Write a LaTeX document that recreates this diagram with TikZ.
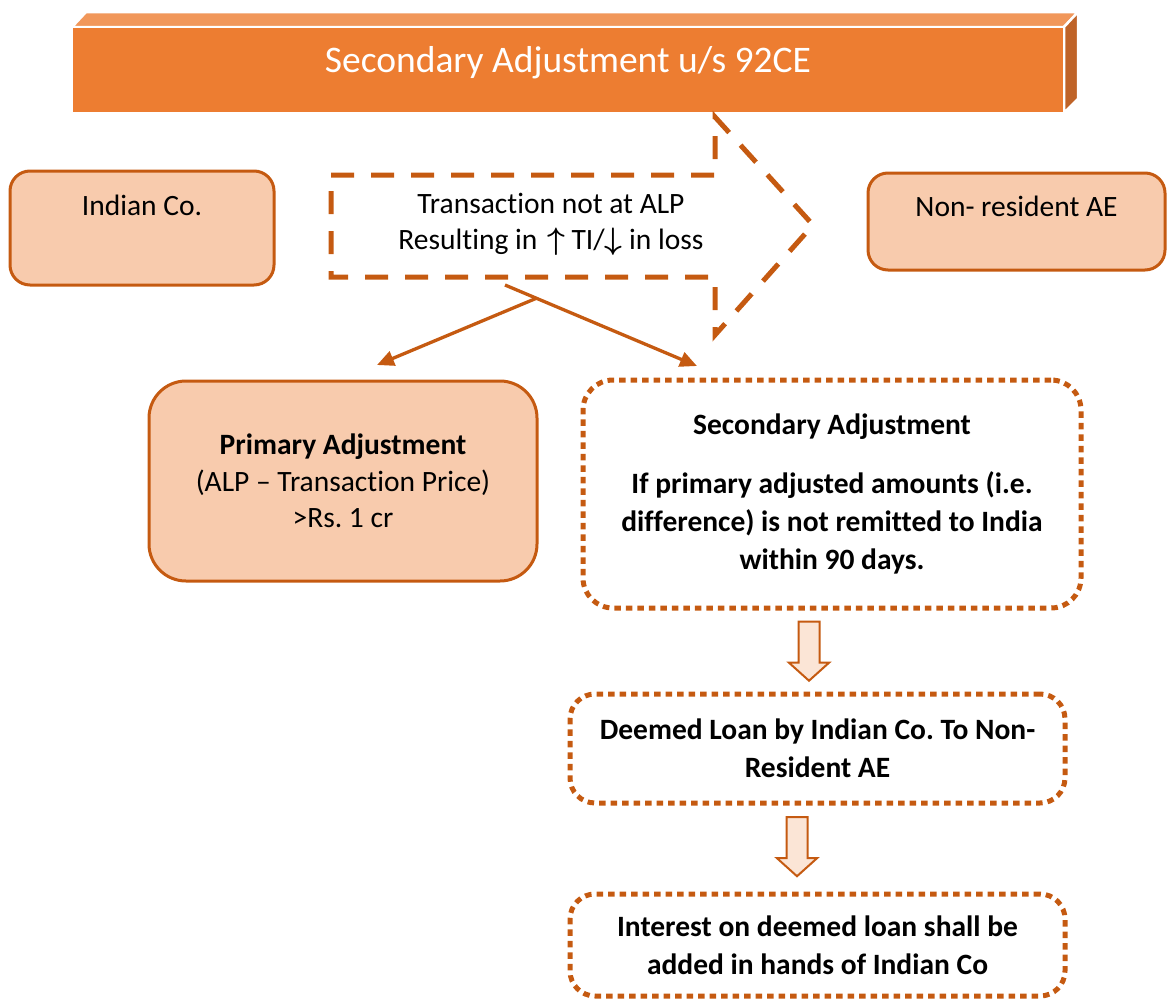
\documentclass[tikz,border=0pt]{standalone}
\usepackage{fix-cm}
\usepackage{fontspec}
\setmainfont{Carlito}[Ligatures=CommonOff]
\usetikzlibrary{arrows.meta, positioning, shapes.arrows}
\frenchspacing

\definecolor{bannerfront}{HTML}{ED7D31}
\definecolor{bannertop}{HTML}{F1975A}
\definecolor{bannerside}{HTML}{BF6328}
\definecolor{edge}{HTML}{C55A11}
\definecolor{peach}{HTML}{F8CBAD}
\definecolor{pale}{HTML}{FBE5D6}

\newcommand\upmark{\smash{\fontsize{31}{36.5}\selectfont\boldmath$\uparrow$}}
\newcommand\downmark{\smash{\fontsize{31}{36.5}\selectfont\boldmath$\downarrow$}}

\begin{document}
\begin{tikzpicture}[
    x=1pt, y=-1pt,
    font=\fontsize{29.5}{36.5}\selectfont,
    >={Triangle[length=17pt, width=15pt]},
    box/.style={rectangle, rounded corners=20pt, draw=edge, fill=peach, line width=3pt, align=center},
    dotbox/.style={rectangle, rounded corners=30pt, draw=edge, line width=5pt, dash pattern=on 6.5pt off 5pt, align=center, font=\fontsize{29.5}{38}\selectfont\bfseries},
    dashbound/.style={draw=edge, line width=5pt, dash pattern=on 23pt off 17pt},
    flow/.style={draw=edge, line width=3.3pt},
    fatarrow/.style={single arrow, draw=edge, fill=pale, line width=2pt, shape border rotate=270, minimum height=59pt, minimum width=38pt, inner sep=9.5pt, single arrow head extend=9.5pt, single arrow tip angle=96}
  ]
    \useasboundingbox (0,0) rectangle (1168,999);

    % banner
    \filldraw[fill=bannertop, draw=white, line width=2.5pt] (72,27) -- (86,12) -- (1078,12) -- (1064,27) -- cycle;
    \filldraw[fill=bannerside, draw=white, line width=2.5pt] (1064,27) -- (1078,12) -- (1078,99) -- (1064,113) -- cycle;
    \node[rectangle, fill=bannerfront, draw=white, line width=2.5pt, minimum width=992pt, minimum height=86pt,
      label={[text=white, font=\fontsize{37.5}{44}\selectfont, yshift=7pt]center:Secondary Adjustment u/s 92CE}] (title) at (568,70) {};

    % parties
    \node[box, minimum width=264pt, minimum height=114pt,
      label={[anchor=center, yshift=-36pt]north:Indian Co.}] (indian) at (142,228) {};
    \node[box, minimum width=297pt, minimum height=97pt,
      label={[anchor=center, yshift=-35pt]north:Non- resident AE}] (nonres) at (1016.5,221.5) {};

    % transaction arrow
    \draw[dashbound] (331,175) -- (715,175) -- (715,117) -- (813,225) -- (715,335) -- (715,277) -- (331,277) -- cycle;
    \node[align=center] (txn) at (551,224) {Transaction not at ALP\\Resulting in\hspace{3pt} \upmark\ TI/\downmark\ in loss};

    % adjustments
    \node[box, rounded corners=37pt, minimum width=388pt, minimum height=200pt] (primary) at (343,481)
      {\textbf{Primary Adjustment}\\(ALP -- Transaction Price)\\>Rs. 1 cr};
    \node[dotbox, minimum width=498pt, minimum height=228pt] (secondary) at (832,494)
      {Secondary Adjustment\\[21pt]If primary adjusted amounts (i.e.\\difference) is not remitted to India\\within 90 days.};
    \node[dotbox, rounded corners=25pt, minimum width=495pt, minimum height=109pt] (loan) at (817.5,748.5)
      {Deemed Loan by Indian Co. To Non-\\Resident AE};
    \node[dotbox, rounded corners=25pt, minimum width=495pt, minimum height=102pt] (interest) at (817.5,945)
      {Interest on deemed loan shall be\\added in hands of Indian Co};

    \coordinate (forkR) at (505,285);
    \coordinate (forkL) at (537,298);
    \coordinate (tipL) at (377,365);
    \coordinate (tipR) at (697,366);
    \draw[flow, ->] (forkL) -- (tipL);
    \draw[flow, ->] (forkR) -- (tipR);

    \node[fatarrow] (down1) at (809,646.5) {};
    \node[fatarrow] (down2) at (797,842) {};
  \end{tikzpicture}
\end{document}
